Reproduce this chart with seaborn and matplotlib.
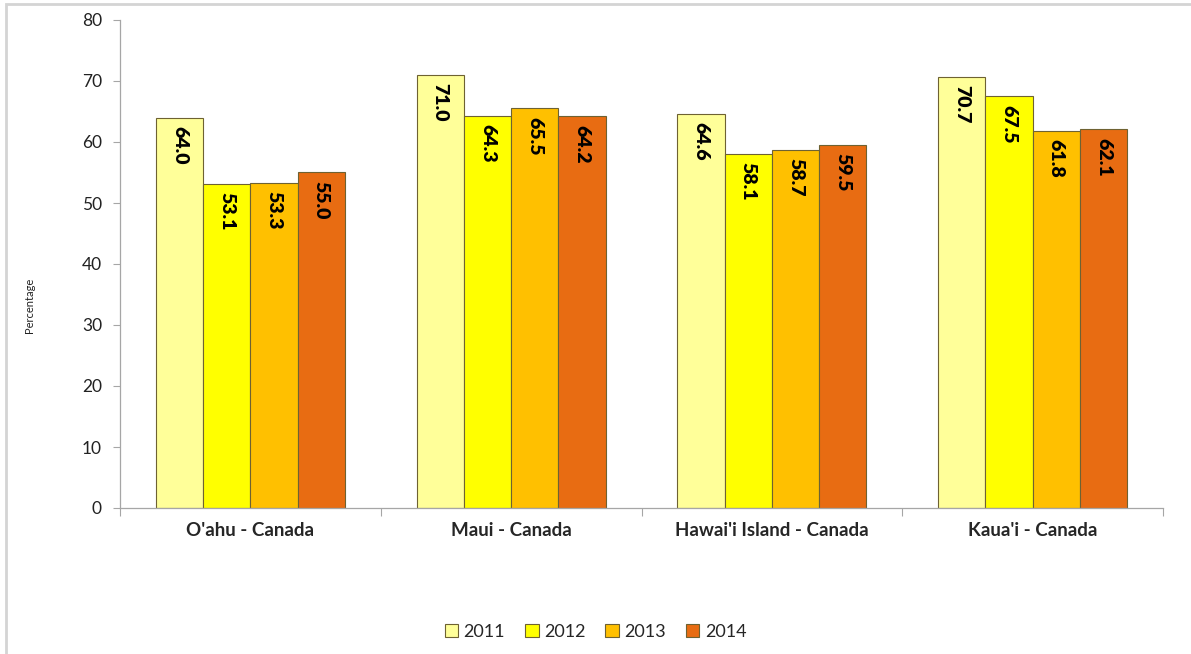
import seaborn as sns
import matplotlib.pyplot as plt
import matplotlib.patches as mpatches
import pandas as pd

# data
islands = ["O'ahu - Canada", "Maui - Canada", "Hawai'i Island - Canada", "Kaua'i - Canada"]
years = ["2011", "2012", "2013", "2014"]
vals_2011 = [64.0, 71.0, 64.6, 70.7]
vals_2012 = [53.1, 64.3, 58.1, 67.5]
vals_2013 = [53.3, 65.5, 58.7, 61.8]
vals_2014 = [55.0, 64.2, 59.5, 62.1]
y_ticks = [0, 10, 20, 30, 40, 50, 60, 70, 80]

colors = ["#FFFF99", "#FFFF00", "#FFC000", "#E86C12"]
edge = "#6E6232"

sns.set_theme(style="white")
plt.rcParams['font.family'] = ['Lato', 'DejaVu Sans']

rows = []
for yr, vals in zip(years, [vals_2011, vals_2012, vals_2013, vals_2014]):
    for isl, v in zip(islands, vals):
        rows.append({'Island': isl, 'Year': yr, 'Value': v})
df = pd.DataFrame(rows)

fig = plt.figure(figsize=(11.91, 6.54), dpi=100)
ax = fig.add_axes([120 / 1191, 1 - 508 / 654, (1163 - 120) / 1191, (508 - 20) / 654])

sns.barplot(data=df, x='Island', y='Value', hue='Year', order=islands, hue_order=years,
            palette=colors, width=0.725, gap=0, edgecolor=edge, linewidth=0.8,
            errorbar=None, legend=False, ax=ax, saturation=1)

# value labels inside the bars, reading downward
for cont in ax.containers:
    for bar in cont:
        h = bar.get_height()
        ax.annotate(f"{h:.1f}", (bar.get_x() + bar.get_width() / 2, h),
                    xytext=(0, -6), textcoords='offset points',
                    rotation=-90, ha='center', va='top',
                    fontsize=14, fontweight='heavy', color='black')

ax.set_ylim(0, 80)
ax.set_yticks(y_ticks)
ax.set_xlim(-0.5, 3.5)
ax.set_xlabel('')
ax.set_ylabel('')
ax.tick_params(axis='y', labelsize=12.5, length=5, width=0.8, color='#A6A6A6',
               direction='out', left=True, pad=8, labelcolor='#222222')
ax.tick_params(axis='x', which='major', length=0, labelsize=13.5, pad=10)
for lbl in ax.get_xticklabels():
    lbl.set_fontweight('bold')
ax.set_xticks([-0.5, 0.5, 1.5, 2.5, 3.5], minor=True)
ax.tick_params(axis='x', which='minor', length=6, width=0.8, color='#A6A6A6',
               direction='out', bottom=True)

sns.despine(ax=ax)
for s in ['left', 'bottom']:
    ax.spines[s].set_color('#A6A6A6')
    ax.spines[s].set_linewidth(0.9)

fig.text(30 / 1191, 1 - 305 / 654, 'Percentage', rotation=90, ha='center', va='center',
         fontsize=8, color='#222222')

handles = [mpatches.Patch(facecolor=c, edgecolor=edge, linewidth=0.8, label=y)
           for c, y in zip(colors, years)]
fig.legend(handles=handles, loc='center', bbox_to_anchor=(0.5, 1 - 632 / 654), ncol=4,
           frameon=False, fontsize=13, handlelength=0.75, handleheight=0.75,
           handletextpad=0.3, columnspacing=1.1)

# light outer frame of the original chart area
fig.add_artist(mpatches.Rectangle((6 / 1191, -0.1), 1.2, 1 - 4 / 654 + 0.1,
                                  transform=fig.transFigure, fill=False,
                                  edgecolor='#D4D4D4', linewidth=2))

fig.savefig('out.png', dpi=100)
